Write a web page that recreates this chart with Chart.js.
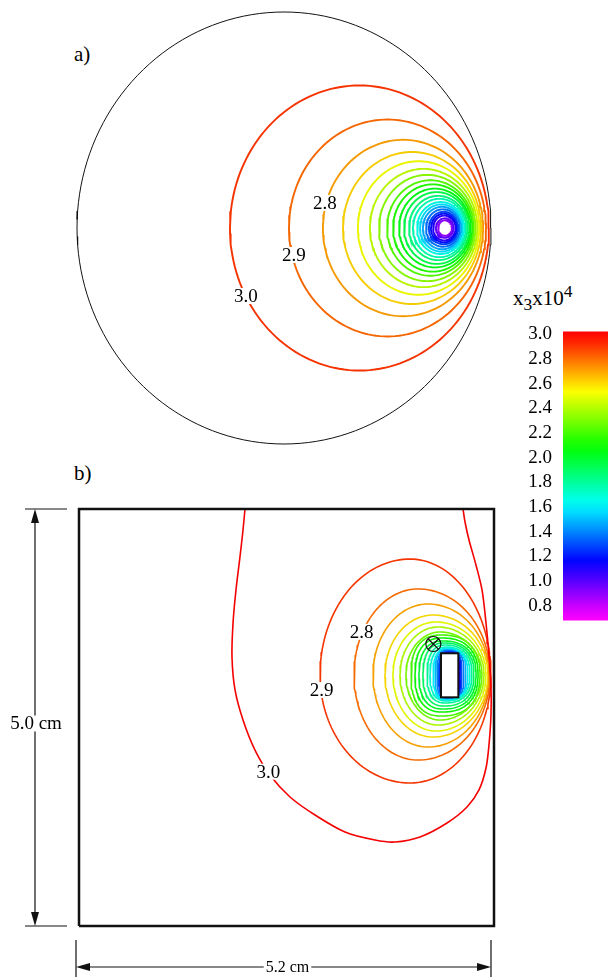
<!DOCTYPE html>
<html>
<head>
<meta charset="utf-8">
<script src="https://cdn.jsdelivr.net/npm/chart.js@4.4.1/dist/chart.umd.min.js"></script>
<style>
    html, body { margin: 0; padding: 0; background: #fff; overflow: hidden; width: 613px; height: 977px; }
    body { position: relative; font-family: "Liberation Serif", "Times New Roman", serif; color: #000; }
    canvas { position: absolute; }
    .tag { position: absolute; font-size: 21px; line-height: 1; white-space: nowrap; }
</style>
</head>
<body>
<div class="tag" style="left:74px;top:44px;">a)</div>
<div class="tag" style="left:74px;top:463px;">b)</div>
<div class="tag" style="left:513px;top:283px;font-size:21px;">x<sub>3</sub>x10<sup>4</sup></div>
<canvas id="chart-a"></canvas>
<canvas id="chart-b"></canvas>
<canvas id="chart-bar"></canvas>
<script>
// ── a) disc: contour circles, crossings read on the line through the source (disc radius = 1)
const aLevels = [3.0, 2.9, 2.8, 2.7, 2.6, 2.5, 2.4, 2.3, 2.2, 2.1, 2.0, 1.9, 1.8, 1.7, 1.6, 1.5, 1.4, 1.3, 1.2, 1.1, 1.0, 0.9];
const aLeft  = [-0.261, 0.024, 0.188, 0.285, 0.357, 0.415, 0.459, 0.498, 0.527, 0.556, 0.580, 0.604, 0.623, 0.643, 0.657, 0.671, 0.686, 0.700, 0.710, 0.720, 0.734, 0.744];
const aRight = [0.990, 0.976, 0.962, 0.952, 0.943, 0.934, 0.925, 0.917, 0.910, 0.902, 0.895, 0.886, 0.879, 0.871, 0.864, 0.857, 0.850, 0.842, 0.836, 0.829, 0.819, 0.812];
const aLabelText = ['3.0', '2.9', '2.8'];
const aLabelX = [-0.184, 0.048, 0.198];
const aLabelY = [-0.315, -0.125, 0.116];

// ── b) square 5.2 x 5.0 cm: closed loops around the electrode (cm)
const bLevels = [2.9, 2.8, 2.7, 2.6, 2.5, 2.4, 2.3, 2.2, 2.1, 2.0, 1.9, 1.8, 1.7, 1.6, 1.5, 1.4, 1.3, 1.2, 1.1, 1.0, 0.9];
const bLeft   = [3.020, 3.446, 3.684, 3.834, 3.934, 4.022, 4.097, 4.160, 4.210, 4.260, 4.310, 4.361, 4.398, 4.436, 4.461, 4.486, 4.506, 4.515, 4.521, 4.526, 4.530];
const bRight  = [5.162, 5.150, 5.137, 5.125, 5.100, 5.075, 5.050, 5.025, 5.000, 4.975, 4.949, 4.924, 4.899, 4.874, 4.849, 4.824, 4.799, 4.787, 4.774, 4.768, 4.762];
const bTop    = [4.400, 4.041, 3.861, 3.729, 3.645, 3.585, 3.525, 3.489, 3.453, 3.417, 3.393, 3.369, 3.345, 3.333, 3.321, 3.310, 3.300, 3.292, 3.286, 3.281, 3.277];
const bBottom = [1.715, 1.990, 2.146, 2.266, 2.338, 2.410, 2.470, 2.518, 2.566, 2.602, 2.638, 2.674, 2.698, 2.710, 2.716, 2.721, 2.725, 2.729, 2.732, 2.735, 2.738];
const bPeakX  = [4.148, 4.248, 4.373, 4.436, 4.473, 4.498, 4.524, 4.536, 4.548, 4.561, 4.574, 4.586, 4.599, 4.611, 4.624, 4.630, 4.636, 4.640, 4.642, 4.644, 4.645];
const bMidY = 3.01;
// 3.0 contour, open curve entering and leaving through the top side
const bEdgeLevel = 3.0;
const bEdgeX = [2.080, 2.055, 2.017, 1.967, 1.930, 1.917, 1.955, 2.055, 2.205, 2.393, 2.644, 2.957, 3.333, 3.709, 3.959, 4.273, 4.611, 4.862, 5.012, 5.100, 5.137, 5.162, 5.162, 5.137, 5.100, 5.050, 4.974, 4.887, 4.837, 4.812];
const bEdgeY = [5.000, 4.748, 4.425, 4.029, 3.633, 3.225, 2.830, 2.470, 2.110, 1.811, 1.547, 1.331, 1.127, 1.031, 1.007, 1.067, 1.235, 1.427, 1.631, 1.894, 2.170, 2.530, 2.890, 3.249, 3.633, 4.029, 4.329, 4.628, 4.844, 5.000];
const bLabelText = ['2.8', '2.9', '3.0'];
const bLabelX = [3.542, 3.041, 2.372];
const bLabelY = [3.528, 2.830, 1.850];
const bWidth = 5.2, bHeight = 5.0;
const bElectrodeX = [4.536, 4.753];
const bElectrodeY = [2.742, 3.270];
const bMarker = [4.440, 3.381];

// ── colour bar
const cbTicks = [0.8, 1.0, 1.2, 1.4, 1.6, 1.8, 2.0, 2.2, 2.4, 2.6, 2.8, 3.0];
const cbRange = [0.68, 3.024];

Chart.defaults.font.family = '"Liberation Serif", "Times New Roman", serif';
Chart.defaults.color = '#000';

// rainbow: magenta at 0.7 → red at `top`
function levelColor(v, top = 3.0, light = 48) {
    const h = Math.max(0, Math.min(300, 300 * (top - v) / (top - 0.7)));
    return `hsl(${h.toFixed(1)},100%,${light}%)`;
}

// egg / superellipse through the four extreme points
function loopPoints(cx, cy, rl, rr, rt, rb, n) {
    const pts = [];
    const steps = 160;
    for (let k = 0; k <= steps; k++) {
        const t = 2 * Math.PI * k / steps;
        const c = Math.cos(t), s = Math.sin(t);
        const ex = Math.sign(c) * Math.pow(Math.abs(c), 2 / n);
        const ey = Math.sign(s) * Math.pow(Math.abs(s), 2 / n);
        pts.push({ x: cx + ex * (c >= 0 ? rr : rl), y: cy + ey * (s >= 0 ? rt : rb) });
    }
    return pts;
}

// put a canvas so that the data box lands on the given page box
function frame(canvas, box, dom, pad) {
    const [pl, pr, pt, pb] = pad;
    canvas.width = box.w + pl + pr;
    canvas.height = box.h + pt + pb;
    canvas.style.left = (box.x - pl) + 'px';
    canvas.style.top = (box.y - pt) + 'px';
    canvas.style.width = canvas.width + 'px';
    canvas.style.height = canvas.height + 'px';
    const sx = (dom.x1 - dom.x0) / box.w, sy = (dom.y1 - dom.y0) / box.h;
    return {
        x: { type: 'linear', display: false, min: dom.x0 - pl * sx, max: dom.x1 + pr * sx },
        y: { type: 'linear', display: false, min: dom.y0 - pb * sy, max: dom.y1 + pt * sy }
    };
}

function lineSet(points, color, width, tension = 0) {
    return { data: points, showLine: true, borderColor: color, borderWidth: width,
             pointRadius: 0, pointHoverRadius: 0, tension, fill: false };
}

function drawTag(ctx, text, px, py, size) {
    ctx.font = `${size}px "Liberation Serif", serif`;
    const w = ctx.measureText(text).width;
    ctx.fillStyle = '#fff';
    ctx.fillRect(px - w / 2 - 2, py - size * 0.42, w + 4, size * 0.84);
    ctx.fillStyle = '#000';
    ctx.textAlign = 'center';
    ctx.textBaseline = 'middle';
    ctx.fillText(text, px, py + 1);
}

function arrowHead(ctx, x, y, dx, dy) {
    const len = 14, half = 4;
    ctx.beginPath();
    ctx.moveTo(x, y);
    ctx.lineTo(x - dx * len - dy * half, y - dy * len + dx * half);
    ctx.lineTo(x - dx * len + dy * half, y - dy * len - dx * half);
    ctx.closePath();
    ctx.fill();
}

const baseOptions = {
    responsive: false,
    animation: false,
    events: [],
    layout: { padding: 0 },
    plugins: { legend: { display: false }, tooltip: { enabled: false } }
};

// ── a) ────────────────────────────────────────────────────
const ASTRETCH = 1.055;   // contours sit a little taller than wide on the page
const ACOLOR_TOP = 3.1;   // panel a colours run one step warmer
const canvasA = document.getElementById('chart-a');
const scalesA = frame(canvasA, { x: 77, y: 12, w: 414, h: 432 }, { x0: -1, x1: 1, y0: -1, y1: 1 }, [30, 30, 30, 30]);

const setsA = [lineSet(loopPoints(0, 0, 1, 1, 1, 1, 2), '#111', 1)];
aLevels.forEach((lv, i) => {
    const cx = (aLeft[i] + aRight[i]) / 2;
    const r = (aRight[i] - aLeft[i]) / 2;
    setsA.push(lineSet(loopPoints(cx, 0, r, r, r * ASTRETCH, r * ASTRETCH, 2), levelColor(lv, ACOLOR_TOP), 1.9));
});

new Chart(canvasA, {
    type: 'scatter',
    data: { datasets: setsA },
    options: { ...baseOptions, scales: scalesA },
    plugins: [{
        id: 'labelsA',
        afterDatasetsDraw(chart) {
            const { ctx, scales: { x, y } } = chart;
            ctx.save();
            aLabelText.forEach((t, i) => drawTag(ctx, t, x.getPixelForValue(aLabelX[i]), y.getPixelForValue(aLabelY[i]), 19));
            ctx.restore();
        }
    }]
});

// ── b) ────────────────────────────────────────────────────
const canvasB = document.getElementById('chart-b');
const scalesB = frame(canvasB, { x: 79, y: 509, w: 415, h: 417 }, { x0: 0, x1: bWidth, y0: 0, y1: bHeight }, [80, 30, 30, 60]);

const setsB = [
    lineSet([{ x: 0, y: 0 }, { x: bWidth, y: 0 }, { x: bWidth, y: bHeight }, { x: 0, y: bHeight }, { x: 0, y: 0 }], '#111', 2.5),
    lineSet(bEdgeX.map((x, i) => ({ x, y: bEdgeY[i] })), levelColor(bEdgeLevel), 1.6, 0.3)
];
bLevels.forEach((lv, i) => {
    const n = lv >= 2.3 ? 2 : lv >= 1.6 ? 2.4 : 3;
    setsB.push(lineSet(loopPoints(bPeakX[i], bMidY,
        bPeakX[i] - bLeft[i], bRight[i] - bPeakX[i],
        bTop[i] - bMidY, bMidY - bBottom[i], n), levelColor(lv), 1.6));
});

new Chart(canvasB, {
    type: 'scatter',
    data: { datasets: setsB },
    options: { ...baseOptions, scales: scalesB },
    plugins: [{
        id: 'overlayB',
        afterDatasetsDraw(chart) {
            const { ctx, scales: { x, y } } = chart;
            ctx.save();
            // electrode
            const ex0 = x.getPixelForValue(bElectrodeX[0]), ex1 = x.getPixelForValue(bElectrodeX[1]);
            const ey0 = y.getPixelForValue(bElectrodeY[1]), ey1 = y.getPixelForValue(bElectrodeY[0]);
            ctx.fillStyle = '#fff';
            ctx.fillRect(ex0, ey0, ex1 - ex0, ey1 - ey0);
            ctx.strokeStyle = '#111';
            ctx.lineWidth = 2;
            ctx.strokeRect(ex0, ey0, ex1 - ex0, ey1 - ey0);
            // ⊗ marker
            const mx = x.getPixelForValue(bMarker[0]), my = y.getPixelForValue(bMarker[1]), mr = 7.5;
            ctx.lineWidth = 1.2;
            ctx.beginPath(); ctx.arc(mx, my, mr, 0, 2 * Math.PI); ctx.stroke();
            const d = mr * 0.707;
            ctx.beginPath();
            ctx.moveTo(mx - d, my - d); ctx.lineTo(mx + d, my + d);
            ctx.moveTo(mx + d, my - d); ctx.lineTo(mx - d, my + d);
            ctx.stroke();
            // contour labels
            bLabelText.forEach((t, i) => drawTag(ctx, t, x.getPixelForValue(bLabelX[i]), y.getPixelForValue(bLabelY[i]), 19));

            // dimension lines
            const left = x.getPixelForValue(0), right = x.getPixelForValue(bWidth);
            const top = y.getPixelForValue(bHeight), bottom = y.getPixelForValue(0);
            ctx.strokeStyle = '#111';
            ctx.fillStyle = '#111';
            ctx.lineWidth = 1.2;
            const vx = left - 44;
            ctx.beginPath();
            ctx.moveTo(left - 54, top); ctx.lineTo(left - 12, top);
            ctx.moveTo(left - 54, bottom); ctx.lineTo(left - 12, bottom);
            ctx.moveTo(vx, top + 10); ctx.lineTo(vx, bottom - 10);
            ctx.stroke();
            arrowHead(ctx, vx, top, 0, -1);
            arrowHead(ctx, vx, bottom, 0, 1);
            drawTag(ctx, `${bHeight.toFixed(1)} cm`, vx + 1, (top + bottom) / 2 + 6, 19);

            const hy = bottom + 41, hx0 = left - 3, hx1 = right - 3;
            ctx.strokeStyle = '#111';
            ctx.beginPath();
            ctx.moveTo(hx0, bottom + 14); ctx.lineTo(hx0, bottom + 60);
            ctx.moveTo(hx1, bottom + 14); ctx.lineTo(hx1, bottom + 60);
            ctx.moveTo(hx0 + 10, hy); ctx.lineTo(hx1 - 10, hy);
            ctx.stroke();
            ctx.fillStyle = '#111';
            arrowHead(ctx, hx0, hy, -1, 0);
            arrowHead(ctx, hx1, hy, 1, 0);
            drawTag(ctx, `${bWidth.toFixed(1)} cm`, (hx0 + hx1) / 2 + 4, hy, 16);
            ctx.restore();
        }
    }]
});

// ── colour bar ────────────────────────────────────────────
const canvasBar = document.getElementById('chart-bar');
canvasBar.width = 108; canvasBar.height = 334;
canvasBar.style.left = '500px'; canvasBar.style.top = '309px';
canvasBar.style.width = '108px'; canvasBar.style.height = '334px';

function barGradient(context) {
    const { ctx, chartArea } = context.chart;
    if (!chartArea) return 'transparent';
    const g = ctx.createLinearGradient(0, chartArea.bottom, 0, chartArea.top);
    const span = cbRange[1] - cbRange[0];
    for (let k = 0; k <= 24; k++) {
        const v = cbRange[0] + span * k / 24;
        g.addColorStop(k / 24, levelColor(v, 3.0, 50));
    }
    return g;
}

new Chart(canvasBar, {
    type: 'bar',
    data: {
        labels: [''],
        datasets: [{ data: [cbRange], backgroundColor: barGradient, borderWidth: 0,
                     barPercentage: 1, categoryPercentage: 1 }]
    },
    options: {
        ...baseOptions,
        layout: { padding: { top: 20, bottom: 20, left: 0, right: 0 } },
        scales: {
            x: { display: false },
            y: {
                min: cbRange[0], max: cbRange[1],
                afterBuildTicks: s => { s.ticks = cbTicks.map(v => ({ value: v })); },
                afterFit: s => { s.width = 63; },
                grid: { display: false, drawTicks: false },
                border: { display: false },
                ticks: { autoSkip: false, padding: 11, color: '#000', font: { size: 19 }, callback: v => Number(v).toFixed(1) }
            }
        }
    }
});
</script>
</body>
</html>
